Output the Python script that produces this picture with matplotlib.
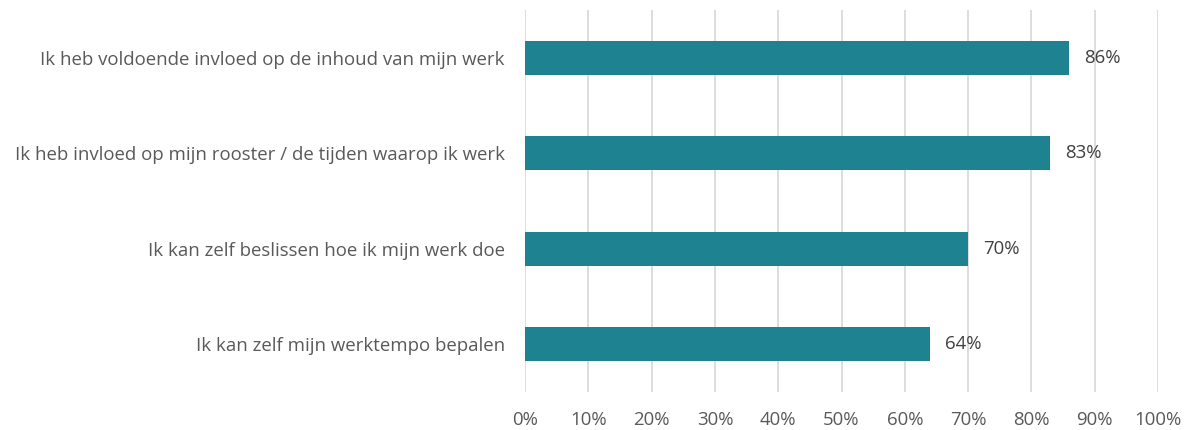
import numpy as np
import matplotlib.pyplot as plt

plt.rcParams['font.family'] = ['Open Sans', 'DejaVu Sans']

# Data
statements = [
    'Ik heb voldoende invloed op de inhoud van mijn werk',
    'Ik heb invloed op mijn rooster / de tijden waarop ik werk',
    'Ik kan zelf beslissen hoe ik mijn werk doe',
    'Ik kan zelf mijn werktempo bepalen',
]
values = [86, 83, 70, 64]
ticks = [0, 10, 20, 30, 40, 50, 60, 70, 80, 90, 100]

bar_color = '#1F8290'
text_color = '#595959'

fig = plt.figure(figsize=(11.9, 4.3), dpi=100)
ax = fig.add_axes([525/1190, 1 - 392/430, (1158 - 525)/1190, (392 - 10)/430])

y = np.arange(len(statements))
ax.barh(y, values, height=0.36, color=bar_color, zorder=3)

for yi, v in zip(y, values):
    ax.text(v + 2.3, yi, f'{v}%', va='center', ha='left', fontsize=13.4, color='#404040')

ax.set_xlim(0, 100)
ax.set_ylim(len(statements) - 0.5, -0.5)
ax.set_xticks(ticks)
ax.set_xticklabels([f'{t}%' for t in ticks], fontsize=13.4, color=text_color)
ax.set_yticks(y)
ax.set_yticklabels(statements, fontsize=13.4, color=text_color)
ax.tick_params(axis='both', length=0)
ax.tick_params(axis='x', pad=14)
ax.tick_params(axis='y', pad=14.5)

ax.grid(axis='x', color='#DDDDDD', linewidth=1.4, zorder=0)
for s in ax.spines.values():
    s.set_visible(False)

fig.savefig('out.png', dpi=100)
